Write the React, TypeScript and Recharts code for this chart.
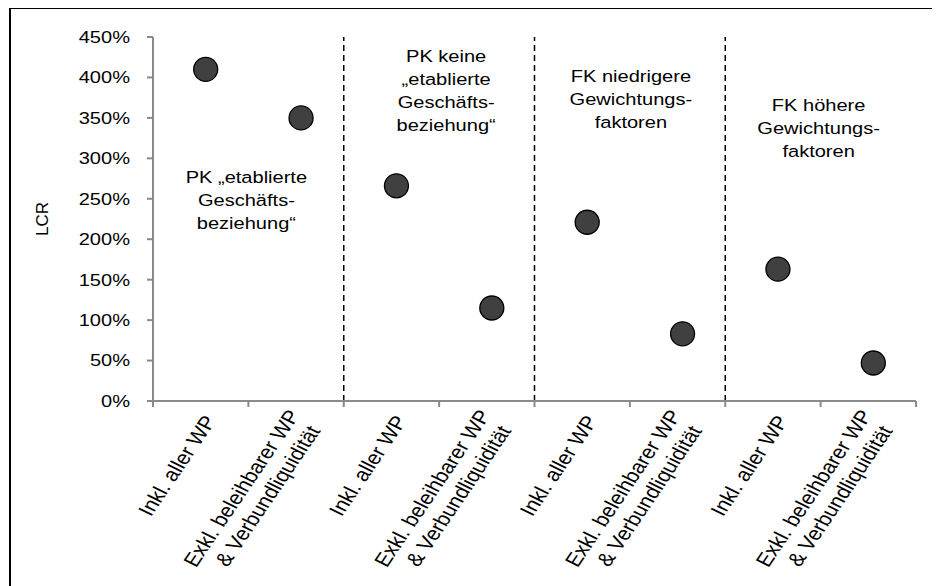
import React from 'react';
import { ComposedChart, Scatter, XAxis, YAxis, ReferenceLine } from 'recharts';

const ids = ['A1', 'A2', 'B1', 'B2', 'C1', 'C2', 'D1', 'D2'];
const tickLabels = [
  ['Inkl. aller WP'],
  ['Exkl. beleihbarer WP', '& Verbundliquidität'],
  ['Inkl. aller WP'],
  ['Exkl. beleihbarer WP', '& Verbundliquidität'],
  ['Inkl. aller WP'],
  ['Exkl. beleihbarer WP', '& Verbundliquidität'],
  ['Inkl. aller WP'],
  ['Exkl. beleihbarer WP', '& Verbundliquidität'],
];
const lcr = [410, 350, 266, 115, 221, 83, 163, 47];
const yTicks = [0, 50, 100, 150, 200, 250, 300, 350, 400, 450];

// group captions, placed at the boundary between the two categories of a group
const groupAt = ['A1', 'B1', 'C1', 'D1'];
const groupText = [
  ['PK „etablierte', 'Geschäfts-', 'beziehung“'],
  ['PK keine', '„etablierte', 'Geschäfts-', 'beziehung“'],
  ['FK niedrigere', 'Gewichtungs-', 'faktoren'],
  ['FK höhere', 'Gewichtungs-', 'faktoren'],
];
const groupTop = [146, 25, 45, 74];
const groupDx = [-2, 7, 1, -2];
const separators = ['B1', 'C1', 'D1'];

const data = ids.map((id, i) => ({ id, value: lcr[i] }));

const W = 932;
const H = 578;
const margin = { top: 29, right: 24, left: 10, bottom: 0 };
const Y_W = 135;
const plotW = W - margin.left - margin.right - Y_W;
const band = plotW / ids.length;
const FONT = '"Liberation Sans", Arial, sans-serif';
const AXIS = '#8a8a8a';
const SX = 1.18; // the source text is drawn a bit wide

const XTick = (props: any) => {
  const { x, y, payload } = props;
  const i = payload.index;
  const lines = tickLabels[i];
  const n = lines.length;
  return (
    <g>
      <line x1={x - band / 2} x2={x - band / 2} y1={y} y2={y + 6} stroke={AXIS} strokeWidth={2} />
      {i === ids.length - 1 && (
        <line x1={x + band / 2} x2={x + band / 2} y1={y} y2={y + 6} stroke={AXIS} strokeWidth={2} />
      )}
      <g transform={`translate(${x + 9},${y + 16}) scale(${SX},1) rotate(-60)`}>
        <text textAnchor="end" fontSize={19} fontFamily={FONT} fill="#000">
          {lines.map((l, k) => (
            <tspan key={k} x={k === 0 ? 0 : -5} y={(k - (n - 1) / 2) * 23 + 7}>
              {l}
            </tspan>
          ))}
        </text>
      </g>
    </g>
  );
};

const YTick = (props: any) => {
  const { x, y, payload } = props;
  return (
    <text
      transform={`translate(${x},${y}) scale(${SX},1)`}
      textAnchor="end"
      dominantBaseline="central"
      fontSize={17}
      fontFamily={FONT}
      fill="#000"
    >
      {`${payload.value}%`}
    </text>
  );
};

const Dot = (props: any) => (
  <circle cx={props.cx + 5} cy={props.cy} r={12} fill="#404040" stroke="#000" strokeWidth={1.3} />
);

const caption = (g: number) => (props: any) => {
  const vb = props.viewBox;
  const cx = vb.x + groupDx[g];
  return (
    <text
      transform={`translate(${cx},${vb.y + groupTop[g]}) scale(${SX},1)`}
      textAnchor="middle"
      fontSize={17}
      fontFamily={FONT}
      fill="#000"
    >
      {groupText[g].map((l, k) => (
        <tspan key={k} x={0} y={k * 23}>
          {l}
        </tspan>
      ))}
    </text>
  );
};

const yLabel = (props: any) => {
  const vb = props.viewBox;
  const cx = vb.x + 24;
  const cy = vb.y + vb.height / 2;
  return (
    <text
      x={cx}
      y={cy}
      transform={`rotate(-90 ${cx} ${cy})`}
      textAnchor="middle"
      dominantBaseline="central"
      fontSize={17}
      fontFamily={FONT}
      fill="#000"
    >
      LCR
    </text>
  );
};

export default function App() {
  return (
    <div style={{ position: 'relative', width: W, height: H, background: '#fff' }}>
      <ComposedChart width={W} height={H} data={data} margin={margin}>
        <XAxis
          dataKey="id"
          type="category"
          scale="band"
          interval={0}
          height={H - margin.top - margin.bottom - 364}
          axisLine={{ stroke: AXIS, strokeWidth: 2 }}
          tickLine={false}
          tickSize={0}
          tickMargin={0}
          tick={<XTick />}
        />
        <YAxis
          width={Y_W}
          domain={[0, 450]}
          ticks={yTicks}
          interval={0}
          axisLine={{ stroke: AXIS, strokeWidth: 2 }}
          tickLine={{ stroke: AXIS, strokeWidth: 2 }}
          tickSize={6}
          tickMargin={17}
          tick={<YTick />}
          label={{ content: yLabel }}
        />
        {separators.map((s) => (
          <ReferenceLine
            key={s}
            x={s}
            position="start"
            stroke="#000"
            strokeWidth={1.5}
            strokeDasharray="6 4"
          />
        ))}
        {groupAt.map((s, g) => (
          <ReferenceLine key={'g' + s} x={s} position="end" stroke="none" label={{ content: caption(g) }} />
        ))}
        <Scatter dataKey="value" shape={<Dot />} isAnimationActive={false} />
      </ComposedChart>
      <div
        style={{
          position: 'absolute',
          zIndex: 2,
          pointerEvents: 'none',
          top: -1,
          left: 1,
          width: W + 20,
          height: H + 20,
          borderTop: '2px solid #000',
          borderLeft: '2px solid #000',
        }}
      />
    </div>
  );
}
